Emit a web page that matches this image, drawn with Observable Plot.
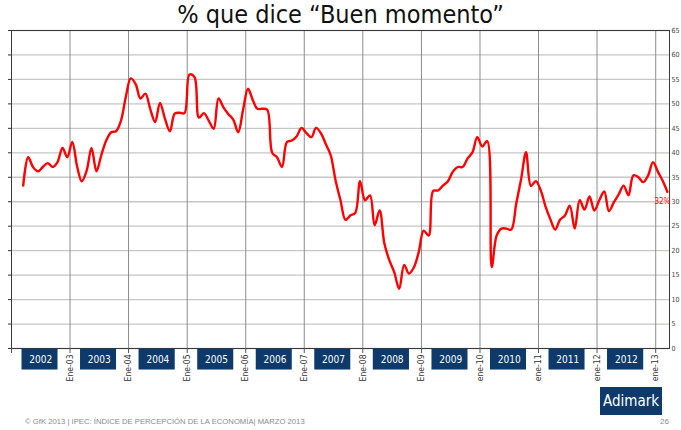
<!DOCTYPE html>
<html>
<head>
<meta charset="utf-8">
<script src="https://cdn.jsdelivr.net/npm/d3@7"></script>
<script src="https://cdn.jsdelivr.net/npm/@observablehq/plot@0.6"></script>
<style>
  html, body { margin: 0; padding: 0; background: #fff; }
  #page { position: relative; width: 681px; height: 430px; overflow: hidden; font-family: "DejaVu Sans Condensed", "DejaVu Sans", sans-serif; }
  #title { position: absolute; left: 0; top: 1px; width: 681px; text-align: center; font-size: 25px; line-height: 28px; color: #111; }
  #chart { position: absolute; left: 0; top: 20px; }
  #footer { position: absolute; left: 25px; top: 417px; font-family: "Liberation Sans", Arial, sans-serif; font-size: 7.7px; color: #8a8a8a; white-space: nowrap; }
  #pagenum { position: absolute; left: 660px; top: 417px; font-family: "Liberation Sans", Arial, sans-serif; font-size: 8px; color: #8a8a8a; }
  #logo { position: absolute; left: 600px; top: 387px; width: 62px; height: 28px; background: #0d3a6b; color: #fff; font-size: 15px; line-height: 28px; text-align: center; }
</style>
</head>
<body>
<div id="page">
  <div id="title">% que dice “Buen momento”</div>
  <div id="chart"></div>
  <div id="logo">Adimark</div>
  <div id="footer">© GfK 2013 | IPEC: ÍNDICE DE PERCEPCIÓN DE LA ECONOMÍA| MARZO 2013</div>
  <div id="pagenum">26</div>
</div>
<script>
// Monthly series: March 2002 – March 2013 (% que dice "Buen momento")
const values = [
  33.3, 39.1, 37.1, 36.2, 37.1, 37.9, 37.1, 38.1, 41.0, 39.1,          // Mar02–Dic02
  42.2, 37.1, 34.2, 36.4, 41.0, 36.2, 39.5, 42.5, 44.2, 44.4, 46.6, 51.4, // 2003
  55.2, 54.0, 51.1, 52.1, 49.0, 46.3, 50.2, 47.0, 44.4, 48.0, 48.2, 48.1, // 2004
  56.0, 55.5, 47.2, 48.1, 46.6, 44.9, 51.1, 49.3, 47.9, 46.8, 44.2, 48.7, // 2005
  53.1, 50.7, 49.0, 49.0, 48.8, 40.0, 39.1, 37.1, 42.2, 42.5, 43.4, 45.1, // 2006
  44.0, 43.2, 45.1, 44.0, 41.8, 39.5, 34.4, 30.3, 26.3, 27.2, 27.7, 34.2, // 2007
  30.3, 31.3, 25.2, 28.2, 21.4, 18.0, 15.6, 12.2, 17.1, 15.3, 16.6, 19.7, // 2008
  24.1, 23.1, 32.2, 32.3, 33.3, 34.2, 36.1, 37.1, 37.1, 38.8, 40.1, 43.2, // 2009
  41.3, 42.4, 16.6, 23.1, 24.5, 24.5, 24.3, 29.6, 34.7, 40.1, 33.2, 34.2, // 2010
  32.3, 28.9, 26.5, 24.3, 26.3, 27.2, 29.2, 24.5, 30.3, 28.4, 31.1, 28.2, // 2011
  30.3, 32.1, 28.1, 29.9, 31.5, 33.3, 31.3, 35.4, 35.0, 34.0, 35.4, 38.1, // 2012
  36.1, 34.2, 32.0                                                       // Ene13–Mar13
];
const firstMonth = new Date(Date.UTC(2002, 2, 1));
const years = ["2002", "2003", "2004", "2005", "2006", "2007", "2008", "2009", "2010", "2011", "2012"];
const tickYears = [2002, 2003, 2004, 2005, 2006, 2007, 2008, 2009, 2010, 2011, 2012, 2013];
const tickLabels = ["", "Ene-03", "Ene-04", "Ene-05", "Ene-06", "Ene-07", "Ene-08", "Ene-09", "ene-10", "ene-11", "ene-12", "ene-13"];
const yTicks = [0, 5, 10, 15, 20, 25, 30, 35, 40, 45, 50, 55, 60, 65];
const lastLabel = "32%";

const data = values.map((v, i) => ({
  date: d3.utcDay.offset(d3.utcMonth.offset(firstMonth, i), 14),
  value: v
}));
const jan = y => new Date(Date.UTC(y, 0, 1));
const yearRows = years.map(y => ({ label: y, start: jan(+y), end: jan(+y + 1), mid: new Date(Date.UTC(+y, 6, 2)) }));
const tickDates = tickYears.map(jan);
const labelOf = new Map(tickDates.map((d, i) => [+d, tickLabels[i]]));

const navy = "#0d3a6b";
const font = "DejaVu Sans Condensed, DejaVu Sans, sans-serif";

const chart = Plot.plot({
  width: 681,
  height: 410,
  marginTop: 10,
  marginBottom: 82,
  marginLeft: 11,
  marginRight: 12,
  style: { fontFamily: font, overflow: "visible", background: "transparent" },
  x: { type: "utc", domain: [jan(2002), new Date(Date.UTC(2013, 2, 28))] },
  y: { domain: [0, 65] },
  marks: [
    Plot.gridY(yTicks, { stroke: "#c6c6c6", strokeOpacity: 1, strokeWidth: 1.3 }),
    Plot.gridX(tickDates.slice(1), { stroke: "#8c8c8c", strokeOpacity: 1, strokeWidth: 1 }),
    Plot.frame({ stroke: "#3a3a3a", strokeWidth: 1 }),
    Plot.axisY(yTicks, { anchor: "left", tickSize: 3, tickFormat: () => "", label: null, stroke: "#333" }),
    Plot.axisY(yTicks, { anchor: "right", tickSize: 0, tickPadding: 2, fontSize: 7, fill: "#444", label: null, fontFamily: "Liberation Sans Narrow, DejaVu Sans Condensed, sans-serif" }),
    Plot.rect(yearRows, { x1: "start", x2: "end", y1: -0.15, y2: -4.4, insetLeft: 10.5, insetRight: 12, fill: navy }),
    Plot.text(yearRows, { x: "mid", y: -2.25, text: "label", fill: "#fff", fontSize: 10 }),
    Plot.axisX(tickDates, { anchor: "bottom", tickSize: 5, tickPadding: 1, tickRotate: -90, fontSize: 8.5, fill: "#333", stroke: "#555", label: null, tickFormat: d => labelOf.get(+d) }),
    Plot.line(data, { x: "date", y: "value", stroke: "#ff0000", strokeWidth: 2.4, curve: "catmull-rom" }),
    Plot.text(data.slice(-1), { x: "date", y: "value", text: () => lastLabel, fill: "#ff0000", fontSize: 8, textAnchor: "end", dx: 3, dy: 9 })
  ]
});
document.getElementById("chart").appendChild(chart);
</script>
</body>
</html>
